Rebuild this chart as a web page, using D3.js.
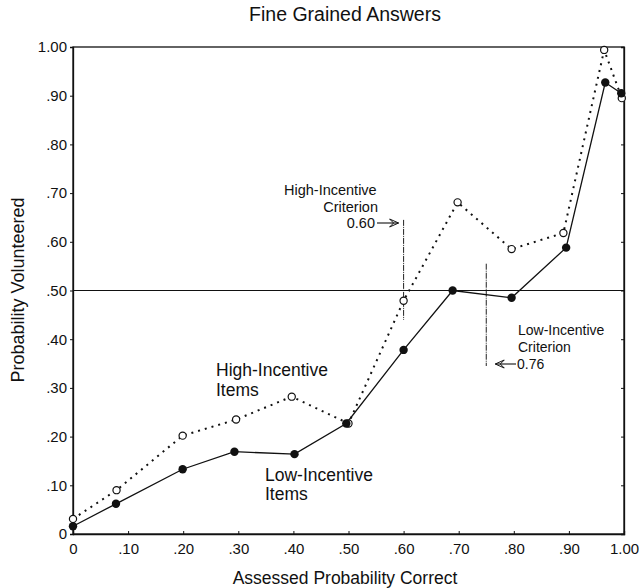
<!DOCTYPE html>
<html><head><meta charset="utf-8">
<script src="https://cdn.jsdelivr.net/npm/d3@7"></script>
<style>body{margin:0;background:#fff}svg{display:block}text{font-family:"Liberation Sans",Arial,sans-serif;fill:#111}</style>
</head><body><svg id="c" width="639" height="588"></svg>
<script>
const lowX  = [0, 0.078, 0.199, 0.293, 0.402, 0.496, 0.600, 0.689, 0.796, 0.895, 0.966, 0.995];
const lowY  = [0.016, 0.062, 0.133, 0.169, 0.164, 0.227, 0.378, 0.500, 0.485, 0.588, 0.927, 0.905];
const highX = [0, 0.079, 0.199, 0.296, 0.397, 0.500, 0.600, 0.698, 0.796, 0.890, 0.964, 0.996];
const highY = [0.031, 0.090, 0.202, 0.235, 0.282, 0.227, 0.479, 0.681, 0.585, 0.618, 0.994, 0.895];
const ticks = [0, 0.1, 0.2, 0.3, 0.4, 0.5, 0.6, 0.7, 0.8, 0.9, 1.0];
const tickLabels = ["0", ".10", ".20", ".30", ".40", ".50", ".60", ".70", ".80", ".90", "1.00"];
const highCrit = 0.60, lowCrit = 0.75;
const refLine = 0.50;

const svg = d3.select("#c");
const x = d3.scaleLinear().domain([0, 1]).range([73, 624]);
const y = d3.scaleLinear().domain([0, 1]).range([534, 47]);
const fmt = (d, i) => tickLabels[i];

svg.append("rect").attr("x", x(0)).attr("y", y(1)).attr("width", x(1) - x(0)).attr("height", y(0) - y(1))
  .attr("fill", "none").attr("stroke", "#111").attr("stroke-width", 1.3);

const gy = svg.append("g").attr("transform", `translate(${x(0)},0)`)
  .call(d3.axisLeft(y).tickValues(ticks).tickFormat(fmt).tickSize(3).tickPadding(3));
const gx = svg.append("g").attr("transform", `translate(0,${y(0)})`)
  .call(d3.axisBottom(x).tickValues(ticks).tickFormat(fmt).tickSize(-3).tickPadding(8));
const gr = svg.append("g").attr("transform", `translate(${x(1)},0)`)
  .call(d3.axisRight(y).tickValues(ticks).tickFormat("").tickSize(-3));
[gx, gy, gr].forEach(g => {
  g.select(".domain").attr("stroke", "#111").attr("stroke-width", 1.3);
  g.selectAll("line").attr("stroke", "#111");
  g.selectAll("text").attr("font-size", 15).attr("font-family", '"Liberation Sans",Arial,sans-serif').attr("fill", "#111");
});
gx.selectAll("text").attr("dy", "0.8em");

svg.append("line").attr("x1", x(0)).attr("x2", x(1)).attr("y1", y(refLine)).attr("y2", y(refLine))
  .attr("stroke", "#111").attr("stroke-width", 1);

svg.append("line").attr("x1", x(highCrit)).attr("x2", x(highCrit)).attr("y1", y(0.645)).attr("y2", y(0.44))
  .attr("stroke", "#222").attr("stroke-width", 1).attr("stroke-dasharray", "6,1,1,1");
svg.append("line").attr("x1", x(lowCrit)).attr("x2", x(lowCrit)).attr("y1", y(0.555)).attr("y2", y(0.345))
  .attr("stroke", "#222").attr("stroke-width", 1).attr("stroke-dasharray", "6,1,1,1");

const hi = highX.map((d, i) => [d, highY[i]]);
const lo = lowX.map((d, i) => [d, lowY[i]]);
const line = d3.line().x(d => x(d[0])).y(d => y(d[1]));
svg.append("path").datum(hi).attr("d", line).attr("fill", "none").attr("stroke", "#111")
  .attr("stroke-width", 2).attr("stroke-dasharray", "2,5");
svg.append("path").datum(lo).attr("d", line).attr("fill", "none").attr("stroke", "#111").attr("stroke-width", 1.3);

svg.selectAll(".hp").data(hi).join("circle").attr("cx", d => x(d[0])).attr("cy", d => y(d[1]))
  .attr("r", 3.6).attr("fill", "#fff").attr("stroke", "#111").attr("stroke-width", 1.2);
svg.selectAll(".lp").data(lo).join("circle").attr("cx", d => x(d[0])).attr("cy", d => y(d[1]))
  .attr("r", 4.2).attr("fill", "#111");

function arrow(x1, x2, yy) {
  svg.append("line").attr("x1", x1).attr("x2", x2).attr("y1", yy).attr("y2", yy).attr("stroke", "#111").attr("stroke-width", 1.1);
  const dir = Math.sign(x2 - x1);
  svg.append("path").attr("d", `M${x2 - dir * 9},${yy - 4} L${x2},${yy} L${x2 - dir * 9},${yy + 4} L${x2 - dir * 5},${yy} Z`)
    .attr("fill", "none").attr("stroke", "#111").attr("stroke-width", 1);
}

const T = (tx, ty, s, size, anchor) => svg.append("text").attr("x", tx).attr("y", ty)
  .attr("font-size", size).attr("text-anchor", anchor || "start").text(s);
T(345, 21, "Fine Grained Answers", 19.5, "middle");
T(345, 584, "Assessed Probability Correct", 17.5, "middle");
svg.append("text").attr("transform", "translate(24,290) rotate(-90)").attr("text-anchor", "middle")
  .attr("font-size", 18).text("Probability Volunteered");

T(284, 195, "High-Incentive", 14.5);
T(378, 212, "Criterion", 14.5, "end");
T(375, 228, "0.60", 14.5, "end");
arrow(377, x(highCrit) - 5, 223);

T(518, 335, "Low-Incentive", 14);
T(518, 352, "Criterion", 14);
T(517, 369, "0.76", 14);
arrow(516, x(lowCrit) + 9, 364);

T(216, 376, "High-Incentive", 17.5);
T(216, 396, "Items", 17.5);
T(265, 481, "Low-Incentive", 17.5);
T(265, 500, "Items", 17.5);
</script></body></html>
